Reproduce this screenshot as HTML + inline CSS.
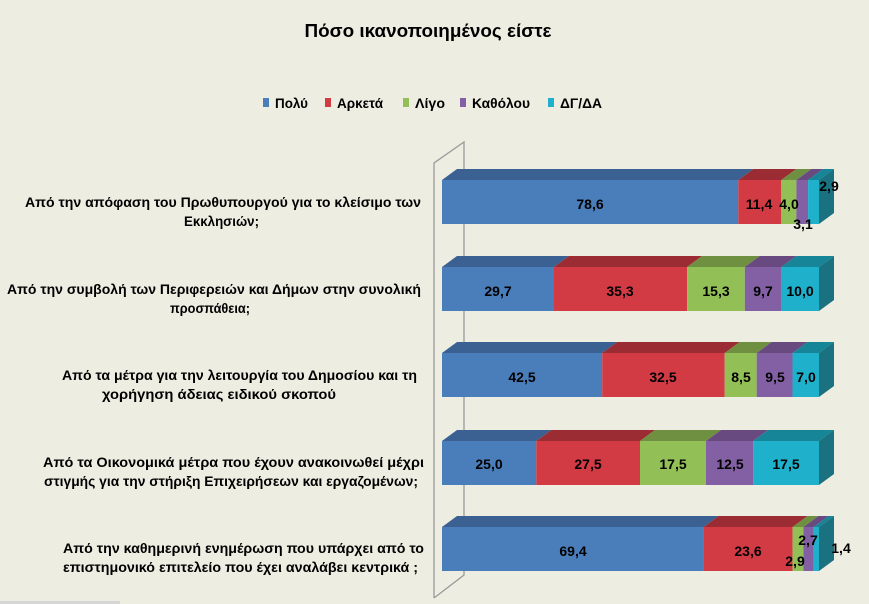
<!DOCTYPE html>
<html><head><meta charset="utf-8"><style>
html,body{margin:0;padding:0;background:#eeede2;}
svg{display:block;font-family:"Liberation Sans","Noto Sans CJK SC",sans-serif;font-weight:bold;}
</style></head><body>
<svg width="869" height="604" viewBox="0 0 869 604" xmlns="http://www.w3.org/2000/svg">
<rect width="869" height="604" fill="#eeede2"/>
<rect x="0" y="601" width="120" height="3" fill="#d6d6d6"/>
<text x="428" y="37" font-size="18" text-anchor="middle" textLength="247" lengthAdjust="spacingAndGlyphs" fill="#000">Πόσο ικανοποιημένος είστε</text>
<g font-size="14" fill="#000">
<rect x="263" y="98" width="6" height="9" fill="#4a7ebb"/><text x="275" y="108" textLength="33" lengthAdjust="spacingAndGlyphs">Πολύ</text>
<rect x="325" y="98" width="6" height="9" fill="#d23a44"/><text x="337" y="108" textLength="46" lengthAdjust="spacingAndGlyphs">Αρκετά</text>
<rect x="403" y="98" width="6" height="9" fill="#92c057"/><text x="415" y="108" textLength="30" lengthAdjust="spacingAndGlyphs">Λίγο</text>
<rect x="460" y="98" width="6" height="9" fill="#8360a3"/><text x="472" y="108" textLength="58" lengthAdjust="spacingAndGlyphs">Καθόλου</text>
<rect x="548" y="98" width="6" height="9" fill="#1fb0cc"/><text x="560" y="108" textLength="42" lengthAdjust="spacingAndGlyphs">ΔΓ/ΔΑ</text>
</g>
<g stroke="#9a9a9a" stroke-width="1.3" fill="none">
<polyline points="434,598 434,163 464,142 464,575 434,598"/>
</g>
<g font-size="13.5" fill="#000">
<text x="25" y="207" textLength="396" lengthAdjust="spacingAndGlyphs">Από την απόφαση του Πρωθυπουργού για το κλείσιμο των</text>
<text x="184" y="226" textLength="75" lengthAdjust="spacingAndGlyphs">Εκκλησιών;</text>
<text x="7" y="294" textLength="414" lengthAdjust="spacingAndGlyphs">Από την συμβολή των Περιφερειών και Δήμων στην συνολική</text>
<text x="170" y="313" textLength="80" lengthAdjust="spacingAndGlyphs">προσπάθεια;</text>
<text x="62" y="380" textLength="355" lengthAdjust="spacingAndGlyphs">Από τα μέτρα για την λειτουργία του Δημοσίου και τη</text>
<text x="102" y="399" textLength="234" lengthAdjust="spacingAndGlyphs">χορήγηση άδειας ειδικού σκοπού</text>
<text x="43" y="467" textLength="381" lengthAdjust="spacingAndGlyphs">Από τα Οικονομικά μέτρα που έχουν ανακοινωθεί μέχρι</text>
<text x="44" y="486" textLength="374" lengthAdjust="spacingAndGlyphs">στιγμής για την στήριξη Επιχειρήσεων και εργαζομένων;</text>
<text x="63" y="553" textLength="361" lengthAdjust="spacingAndGlyphs">Από την καθημερινή ενημέρωση που υπάρχει από το</text>
<text x="63" y="572" textLength="355" lengthAdjust="spacingAndGlyphs">επιστημονικό επιτελείο που έχει αναλάβει κεντρικά ;</text>
</g>

<g transform="translate(0,180)">
<polygon points="442,0 457,-11 753.3,-11 738.3,0" fill="#3a6192"/>
<polygon points="738.3,0 753.3,-11 796.3,-11 781.3,0" fill="#9b2c34"/>
<polygon points="781.3,0 796.3,-11 811.4,-11 796.4,0" fill="#6f9040"/>
<polygon points="796.4,0 811.4,-11 823.1,-11 808.1,0" fill="#684a80"/>
<polygon points="808.1,0 823.1,-11 834,-11 819,0" fill="#168597"/>
<polygon points="819,0 834,-11 834,33 819,44" fill="#1a7280"/>
<rect x="442" y="0" width="296.3" height="44" fill="#4a7ebb"/>
<rect x="738.3" y="0" width="43" height="44" fill="#d23a44"/>
<rect x="781.3" y="0" width="15.1" height="44" fill="#92c057"/>
<rect x="796.4" y="0" width="11.7" height="44" fill="#8360a3"/>
<rect x="808.1" y="0" width="10.9" height="44" fill="#1fb0cc"/>
</g>
<g transform="translate(0,267)">
<polygon points="442,0 457,-11 569,-11 554,0" fill="#3a6192"/>
<polygon points="554,0 569,-11 702.1,-11 687.1,0" fill="#9b2c34"/>
<polygon points="687.1,0 702.1,-11 759.8,-11 744.8,0" fill="#6f9040"/>
<polygon points="744.8,0 759.8,-11 796.4,-11 781.4,0" fill="#684a80"/>
<polygon points="781.4,0 796.4,-11 834,-11 819,0" fill="#168597"/>
<polygon points="819,0 834,-11 834,33 819,44" fill="#1a7280"/>
<rect x="442" y="0" width="112" height="44" fill="#4a7ebb"/>
<rect x="554" y="0" width="133.1" height="44" fill="#d23a44"/>
<rect x="687.1" y="0" width="57.7" height="44" fill="#92c057"/>
<rect x="744.8" y="0" width="36.6" height="44" fill="#8360a3"/>
<rect x="781.4" y="0" width="37.6" height="44" fill="#1fb0cc"/>
</g>
<g transform="translate(0,353)">
<polygon points="442,0 457,-11 617.2,-11 602.2,0" fill="#3a6192"/>
<polygon points="602.2,0 617.2,-11 739.7,-11 724.7,0" fill="#9b2c34"/>
<polygon points="724.7,0 739.7,-11 771.7,-11 756.7,0" fill="#6f9040"/>
<polygon points="756.7,0 771.7,-11 807.5,-11 792.5,0" fill="#684a80"/>
<polygon points="792.5,0 807.5,-11 834,-11 819,0" fill="#168597"/>
<polygon points="819,0 834,-11 834,33 819,44" fill="#1a7280"/>
<rect x="442" y="0" width="160.2" height="44" fill="#4a7ebb"/>
<rect x="602.2" y="0" width="122.5" height="44" fill="#d23a44"/>
<rect x="724.7" y="0" width="32" height="44" fill="#92c057"/>
<rect x="756.7" y="0" width="35.8" height="44" fill="#8360a3"/>
<rect x="792.5" y="0" width="26.5" height="44" fill="#1fb0cc"/>
</g>
<g transform="translate(0,441)">
<polygon points="442,0 457,-11 551.3,-11 536.3,0" fill="#3a6192"/>
<polygon points="536.3,0 551.3,-11 655,-11 640,0" fill="#9b2c34"/>
<polygon points="640,0 655,-11 721,-11 706,0" fill="#6f9040"/>
<polygon points="706,0 721,-11 768.1,-11 753.1,0" fill="#684a80"/>
<polygon points="753.1,0 768.1,-11 834,-11 819,0" fill="#168597"/>
<polygon points="819,0 834,-11 834,33 819,44" fill="#1a7280"/>
<rect x="442" y="0" width="94.3" height="44" fill="#4a7ebb"/>
<rect x="536.3" y="0" width="103.7" height="44" fill="#d23a44"/>
<rect x="640" y="0" width="66" height="44" fill="#92c057"/>
<rect x="706" y="0" width="47.1" height="44" fill="#8360a3"/>
<rect x="753.1" y="0" width="65.9" height="44" fill="#1fb0cc"/>
</g>
<g transform="translate(0,527)">
<polygon points="442,0 457,-11 718.6,-11 703.6,0" fill="#3a6192"/>
<polygon points="703.6,0 718.6,-11 807.6,-11 792.6,0" fill="#9b2c34"/>
<polygon points="792.6,0 807.6,-11 818.5,-11 803.5,0" fill="#6f9040"/>
<polygon points="803.5,0 818.5,-11 828.7,-11 813.7,0" fill="#684a80"/>
<polygon points="813.7,0 828.7,-11 834,-11 819,0" fill="#168597"/>
<polygon points="819,0 834,-11 834,33 819,44" fill="#1a7280"/>
<rect x="442" y="0" width="261.6" height="44" fill="#4a7ebb"/>
<rect x="703.6" y="0" width="89" height="44" fill="#d23a44"/>
<rect x="792.6" y="0" width="10.9" height="44" fill="#92c057"/>
<rect x="803.5" y="0" width="10.2" height="44" fill="#8360a3"/>
<rect x="813.7" y="0" width="5.3" height="44" fill="#1fb0cc"/>
</g>

<g font-size="14" fill="#000" text-anchor="middle">
<text x="590" y="209">78,6</text>
<text x="759" y="209">11,4</text>
<text x="789" y="209">4,0</text>
<text x="803" y="229">3,1</text>
<text x="829" y="191">2,9</text>

<text x="498" y="296">29,7</text>
<text x="620" y="296">35,3</text>
<text x="716" y="296">15,3</text>
<text x="763" y="296">9,7</text>
<text x="800" y="296">10,0</text>

<text x="522" y="382">42,5</text>
<text x="663" y="382">32,5</text>
<text x="741" y="382">8,5</text>
<text x="775" y="382">9,5</text>
<text x="806" y="382">7,0</text>

<text x="489" y="469">25,0</text>
<text x="588" y="469">27,5</text>
<text x="673" y="469">17,5</text>
<text x="730" y="469">12,5</text>
<text x="786" y="469">17,5</text>

<text x="573" y="556">69,4</text>
<text x="748" y="556">23,6</text>
<text x="795" y="566">2,9</text>
<text x="808" y="545">2,7</text>
<text x="841" y="553">1,4</text>
</g>
</svg>
</body></html>
